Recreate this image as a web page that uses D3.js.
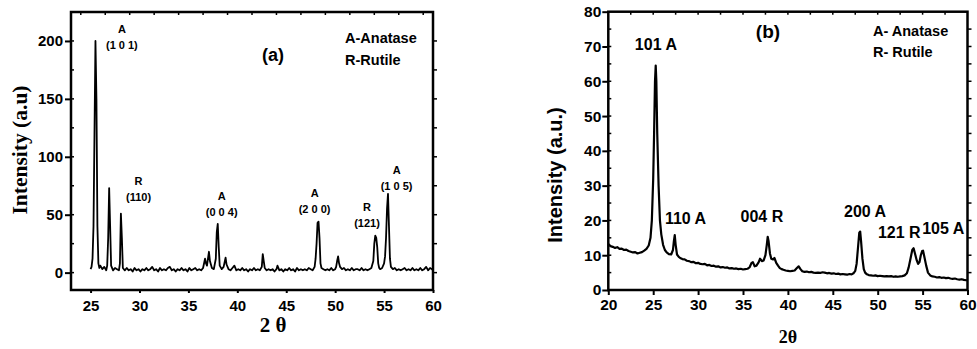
<!DOCTYPE html>
<html><head><meta charset="utf-8">
<script src="https://cdn.jsdelivr.net/npm/d3@7"></script>
<style>body{margin:0;background:#fff}svg{display:block}</style>
</head><body>
<svg id="c" width="977" height="349"></svg>
<script>
// ---------- Panel (a) data ----------
const twoThetaA = [25.0,25.1,25.2,25.3,25.4,25.5,25.6,25.7,25.8,25.9,26.0,26.2,26.4,26.6,26.7,26.8,26.9,27.0,27.1,27.3,27.5,27.7,27.9,28.0,28.1,28.2,28.3,28.5,28.7,28.9,29.1,29.3,29.5,29.7,29.9,30.1,30.3,30.5,30.7,30.9,31.1,31.3,31.5,31.7,31.9,32.1,32.3,32.5,32.7,32.9,33.1,33.3,33.5,33.7,33.9,34.1,34.3,34.5,34.7,34.9,35.1,35.3,35.5,35.7,35.9,36.1,36.3,36.5,36.7,36.8,36.9,37.0,37.1,37.2,37.4,37.6,37.8,37.9,38.0,38.1,38.2,38.4,38.6,38.8,38.9,39.1,39.3,39.5,39.7,39.9,40.1,40.3,40.5,40.7,40.9,41.1,41.3,41.5,41.7,41.9,42.1,42.3,42.5,42.6,42.7,42.8,43.0,43.2,43.4,43.6,43.8,44.0,44.1,44.3,44.5,44.7,44.9,45.1,45.3,45.5,45.7,45.9,46.1,46.3,46.5,46.7,46.9,47.1,47.3,47.5,47.7,47.9,48.0,48.1,48.2,48.3,48.4,48.5,48.6,48.8,49.0,49.2,49.4,49.6,49.8,50.0,50.1,50.2,50.3,50.4,50.5,50.7,50.9,51.1,51.3,51.5,51.7,51.9,52.1,52.3,52.5,52.7,52.9,53.1,53.3,53.5,53.7,53.9,54.0,54.1,54.2,54.3,54.4,54.5,54.6,54.8,55.0,55.1,55.2,55.3,55.4,55.5,55.6,55.7,55.9,56.1,56.3,56.5,56.7,56.9,57.1,57.3,57.5,57.7,57.9,58.1,58.3,58.5,58.7,58.9,59.1,59.3,59.5,59.7,59.9,60.0];
const intensityA = [3,5,12,40,120,200,150,40,8,4,6,3,5,2,6,30,73,40,6,2,4,3,2,8,51,30,4,2,4,2,3,1,4,2,3,1,3,2,4,2,3,5,2,3,1,4,2,3,2,4,5,2,3,1,3,2,4,2,3,1,4,2,3,4,2,3,2,4,12,8,6,12,18,10,4,3,12,35,42,22,6,3,5,13,7,3,2,4,6,2,3,2,4,2,3,1,3,2,4,2,3,2,5,16,10,4,2,3,2,3,1,3,6,2,3,1,3,2,4,2,3,1,4,2,3,2,3,2,4,3,2,5,12,25,43,44,30,8,4,3,2,3,2,4,2,3,5,10,14,8,5,3,4,2,3,2,4,2,3,3,2,4,2,3,2,3,4,10,25,32,30,22,8,4,3,4,8,14,30,55,68,40,12,5,3,4,2,3,2,3,4,2,3,2,4,2,3,2,4,2,3,5,2,4,3,2];
const xTicksA = [25,30,35,40,45,50,55,60];
const yTicksA = [0,50,100,150,200];
const labelsA = [
  {x:28.2, y:200, l1:"A", l2:"(1 0 1)"},
  {x:29.9, y:68.7, l1:"R", l2:"(110)"},
  {x:38.4, y:55.8, l1:"A", l2:"(0 0 4)"},
  {x:47.9, y:58.4, l1:"A", l2:"(2 0 0)"},
  {x:53.26, y:46.3, l1:"R", l2:"(121)"},
  {x:56.28, y:78.2, l1:"A", l2:"(1 0 5)"}
];

// ---------- Panel (b) data ----------
const twoThetaB = [20.0,20.25,20.5,20.75,21.0,21.25,21.5,21.75,22.0,22.25,22.5,22.75,23.0,23.25,23.5,23.75,24.0,24.25,24.5,24.7,24.85,25.0,25.1,25.2,25.28,25.35,25.45,25.6,25.75,25.9,26.1,26.3,26.5,26.75,27.0,27.2,27.3,27.4,27.5,27.65,27.85,28.0,28.25,28.5,28.75,29.0,29.25,29.5,29.75,30.0,30.25,30.5,30.75,31.0,31.25,31.5,31.75,32.0,32.25,32.5,32.75,33.0,33.25,33.5,33.75,34.0,34.25,34.5,34.75,35.0,35.25,35.5,35.75,35.95,36.1,36.3,36.5,36.75,36.9,37.1,37.3,37.5,37.65,37.75,37.85,38.0,38.15,38.35,38.5,38.7,38.9,39.1,39.3,39.5,39.75,40.0,40.25,40.5,40.75,41.0,41.2,41.4,41.6,41.85,42.1,42.35,42.6,42.85,43.1,43.35,43.6,43.85,44.1,44.35,44.6,44.85,45.1,45.35,45.6,45.85,46.1,46.35,46.6,46.85,47.1,47.3,47.5,47.65,47.8,47.95,48.05,48.15,48.3,48.45,48.6,48.8,49.0,49.25,49.5,49.75,50.0,50.25,50.5,50.75,51.0,51.25,51.5,51.75,52.0,52.25,52.5,52.75,53.0,53.25,53.45,53.65,53.85,54.0,54.15,54.35,54.5,54.65,54.8,54.95,55.05,55.2,55.4,55.6,55.85,56.1,56.35,56.6,56.85,57.1,57.35,57.6,57.85,58.1,58.35,58.6,58.85,59.1,59.35,59.6,59.85,60.0];
const intensityB = [13.2,12.6,12.4,12.1,12.3,11.8,11.9,11.5,11.6,11.2,11.0,10.8,10.9,10.5,10.7,10.9,11.3,11.8,12.8,15,20,32,45,60,64.5,60,45,30,20,16,13,11.5,10.8,10.3,10.2,11.5,14,15.8,13,10.2,9.5,9.2,8.9,8.8,8.4,8.3,8.0,8.1,7.7,7.8,7.5,7.4,7.5,7.1,7.2,6.9,7.0,6.7,6.8,6.5,6.6,6.4,6.5,6.2,6.3,6.1,6.2,6.0,6.1,5.9,6.0,6.1,6.6,7.8,8.0,6.8,7.0,8.0,9.0,8.3,8.5,10,13,15.3,14,10.5,9.0,8.8,9.2,7.8,7.0,6.3,6.0,5.8,5.6,5.5,5.4,5.5,5.6,6.3,6.8,6.0,5.4,5.2,5.3,5.1,5.2,5.0,4.9,5.0,4.9,5.1,5.0,4.8,4.9,4.7,4.8,4.6,4.7,4.5,4.6,4.5,4.4,4.6,4.5,4.8,5.5,7.5,12,16.5,16.8,14,9,6,5,4.5,4.3,4.2,4.1,4.2,4.0,4.1,4.0,3.9,4.0,3.9,4.0,3.8,3.9,3.8,3.9,4.0,4.2,4.8,6.5,9,11.5,12,10.5,8.5,7.5,8,10,11.2,11.3,9.5,7,5,4.2,3.9,3.8,3.6,3.7,3.5,3.6,3.4,3.5,3.3,3.2,3.3,3.1,3.0,3.1,2.9,2.8,2.8];
const xTicksB = [20,25,30,35,40,45,50,55,60];
const yTicksB = [0,10,20,30,40,50,60,70,80];
const labelsB = [
  {x:25.3, y:69, t:"101 A"},
  {x:28.6, y:19, t:"110 A"},
  {x:37.1, y:19.5, t:"004 R"},
  {x:48.6, y:21, t:"200 A"},
  {x:52.4, y:15, t:"121 R"},
  {x:57.3, y:16, t:"105 A"}
];

const svg = d3.select("#c");
const SANS = "'Liberation Sans', Arial, sans-serif";
const SERIF = "'Liberation Serif', 'Times New Roman', serif";

function frame(g, x, y, yMinor, topTicks, lw) {
  const [x0,x1] = x.range(), [y1,y0] = y.range();
  const t = g.append("g").attr("stroke","#000").attr("stroke-width",1.5);
  yMinor.forEach(v => {
    t.append("line").attr("x1",x0).attr("x2",x0+3).attr("y1",y(v)).attr("y2",y(v));
    t.append("line").attr("x1",x1).attr("x2",x1+4).attr("y1",y(v)).attr("y2",y(v));
  });
  topTicks.forEach(v => {
    t.append("line").attr("x1",x(v)).attr("x2",x(v)).attr("y1",y0).attr("y2",y0+3);
  });
  g.append("rect").attr("x",x0).attr("y",y0).attr("width",x1-x0).attr("height",y1-y0)
    .attr("fill","none").attr("stroke","#000").attr("stroke-width",lw);
}

// ===== Panel (a) =====
{
  const x = d3.scaleLinear().domain([23,60]).range([71,433]);
  const y = d3.scaleLinear().domain([-15,225]).range([290,12]);
  const g = svg.append("g");
  const yAx = g.append("g").attr("transform","translate(71,0)")
    .call(d3.axisLeft(y).tickValues(yTicksA).tickSize(6).tickPadding(2));
  const xAx = g.append("g").attr("transform","translate(0,290)")
    .call(d3.axisBottom(x).tickValues(xTicksA).tickSize(3).tickPadding(7));
  [yAx,xAx].forEach(a => {
    a.select(".domain").remove();
    a.selectAll("line").attr("stroke-width",2);
    a.selectAll("text").attr("font-family",SANS).attr("font-weight","bold").attr("font-size",15).attr("fill","#000");
  });
  const yMinor = [25,75,125,175];
  frame(g, x, y, yMinor.concat(yTicksA), d3.range(24,60,2.5), 2.5);
  g.append("path").datum(twoThetaA.map((d,i)=>[d,intensityA[i]]))
    .attr("d", d3.line().x(d=>x(d[0])).y(d=>y(d[1])))
    .attr("fill","none").attr("stroke","#000").attr("stroke-width",1.8).attr("stroke-linejoin","round");
  labelsA.forEach(L => {
    const tx = x(L.x), ty = y(L.y);
    g.append("text").attr("x",tx).attr("y",ty-8).attr("text-anchor","middle")
      .attr("font-family",SANS).attr("font-weight","bold").attr("font-size",11).text(L.l1);
    g.append("text").attr("x",tx).attr("y",ty+8).attr("text-anchor","middle")
      .attr("font-family",SANS).attr("font-weight","bold").attr("font-size",11).text(L.l2);
  });
  g.append("text").attr("x",273).attr("y",61).attr("text-anchor","middle")
    .attr("font-family",SANS).attr("font-weight","bold").attr("font-size",18).text("(a)");
  g.append("text").attr("x",345).attr("y",43)
    .attr("font-family",SANS).attr("font-weight","bold").attr("font-size",14.5).text("A-Anatase");
  g.append("text").attr("x",345).attr("y",65)
    .attr("font-family",SANS).attr("font-weight","bold").attr("font-size",14.5).text("R-Rutile");
  g.append("text").attr("transform","translate(27,150) rotate(-90)").attr("text-anchor","middle")
    .attr("font-family",SERIF).attr("font-weight","bold").attr("font-size",21.5).text("Intensity (a.u)");
  g.append("text").attr("x",273).attr("y",332).attr("text-anchor","middle")
    .attr("font-family",SERIF).attr("font-weight","bold").attr("font-size",21).text("2 θ");
}

// ===== Panel (b) =====
{
  const x = d3.scaleLinear().domain([20,60]).range([608.3,967.5]);
  const y = d3.scaleLinear().domain([0,80]).range([290,11.7]);
  const g = svg.append("g");
  const yAx = g.append("g").attr("transform","translate(608.3,0)")
    .call(d3.axisLeft(y).tickValues(yTicksB).tickSize(6).tickPadding(1));
  const xAx = g.append("g").attr("transform","translate(0,290)")
    .call(d3.axisBottom(x).tickValues(xTicksB).tickSize(5).tickPadding(4));
  [yAx,xAx].forEach(a => {
    a.select(".domain").remove();
    a.selectAll("line").attr("stroke-width",2);
    a.selectAll("text").attr("font-family",SANS).attr("font-weight","bold").attr("font-size",15.5).attr("fill","#000");
  });
  const yMinor = d3.range(5,80,10);
  frame(g, x, y, yMinor.concat(yTicksB.slice(1,-1)), d3.range(22.5,60,2.5), 2.5);
  g.append("path").datum(twoThetaB.map((d,i)=>[d,intensityB[i]]))
    .attr("d", d3.line().x(d=>x(d[0])).y(d=>y(d[1])))
    .attr("fill","none").attr("stroke","#000").attr("stroke-width",2.2).attr("stroke-linejoin","round");
  labelsB.forEach(L => {
    g.append("text").attr("x",x(L.x)).attr("y",y(L.y)).attr("text-anchor","middle")
      .attr("font-family",SANS).attr("font-weight","bold").attr("font-size",16).text(L.t);
  });
  g.append("text").attr("x",768).attr("y",38).attr("text-anchor","middle")
    .attr("font-family",SANS).attr("font-weight","bold").attr("font-size",19).text("(b)");
  g.append("text").attr("x",873).attr("y",36)
    .attr("font-family",SANS).attr("font-weight","bold").attr("font-size",14.5).text("A- Anatase");
  g.append("text").attr("x",873).attr("y",57)
    .attr("font-family",SANS).attr("font-weight","bold").attr("font-size",14.5).text("R- Rutile");
  g.append("text").attr("transform","translate(562,175) rotate(-90)").attr("text-anchor","middle")
    .attr("font-family",SANS).attr("font-weight","bold").attr("font-size",20).text("Intensity (a.u.)");
  g.append("text").attr("x",788).attr("y",343).attr("text-anchor","middle")
    .attr("font-family",SERIF).attr("font-weight","bold").attr("font-size",18).text("2θ");
}
</script>
</body></html>
